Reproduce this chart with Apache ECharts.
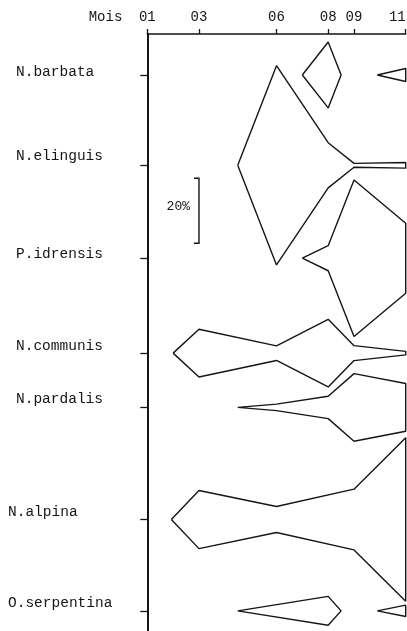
<!DOCTYPE html>
<html>
<head>
<meta charset="utf-8">
<script src="https://cdn.jsdelivr.net/npm/echarts@6/dist/echarts.min.js"></script>
<style>
html,body{margin:0;padding:0;background:#fff;}
#c{width:407px;height:631px;}
</style>
</head>
<body>
<div id="c"></div>
<script>
// ---- data ----
const species = ['N.barbata','N.elinguis','P.idrensis','N.communis','N.pardalis','N.alpina','O.serpentina'];
// row position of each species on the (percent-scaled) vertical axis
const speciesRow = [12.6, 40.4, 69.0, 98.2, 114.9, 149.4, 177.5];
const monthTicks = [1, 3, 6, 8, 9, 11];
// kites: segments of [month, width in %]
const barbata    = [[[7,0],[8,20.3],[8.5,0]], [[9.9,0],[11,4.0]]];
const elinguis   = [[[4.5,0],[6,61.3],[8,13.9],[9,1.2],[11,1.75]]];
const idrensis   = [[[7,0],[8,7.7],[9,48.2],[11,21.5]]];
const communis   = [[[2,0],[3,14.7],[6,4.5],[8,20.8],[9,4.6],[11,1.1]]];
const pardalis   = [[[4.5,0],[6,2.0],[8,6.9],[9,20.8],[11,14.7]]];
const alpina     = [[[1.93,0],[3,17.9],[6,8.0],[9,18.7],[11,50.3]]];
const serpentina = [[[4.5,0],[8,8.9],[8.5,0]], [[9.9,0],[11,3.5]]];
const kites = [barbata, elinguis, idrensis, communis, pardalis, alpina, serpentina];
const scaleBarPct = 20;

// ---- styling ----
const FONT = '"Liberation Mono", "DejaVu Sans Mono", monospace';
const INK = '#151515';
const labelLift = [3, 9, 4, 7, 8.5, 7.5, 8];
const labelIndent = [8, 8, 8, 8, 8, 0, 0];

const series = [];
kites.forEach((segs, i) => {
  const base = speciesRow[i];
  segs.forEach(seg => {
    const upper = seg.map(([m, w]) => [m, base - w / 2]);
    const lower = seg.slice().reverse().map(([m, w]) => [m, base + w / 2]);
    const pts = upper.concat(lower);
    const f = pts[0], l = pts[pts.length - 1];
    if (f[0] !== l[0] || f[1] !== l[1]) pts.push(f);
    series.push({
      type: 'line', data: pts, symbol: 'none', silent: true,
      lineStyle: { color: INK, width: 1.4 }, animation: false
    });
  });
});

series.push({
  type: 'custom', silent: true, animation: false,
  data: [[3, 44.4, scaleBarPct]],
  encode: { x: 0, y: 1 },
  renderItem: (params, api) => {
    const t = api.coord([api.value(0), api.value(1)]);
    const b = api.coord([api.value(0), api.value(1) + api.value(2)]);
    return {
      type: 'group',
      children: [
        { type: 'polyline',
          shape: { points: [[t[0] - 5, t[1]], [t[0], t[1]], [b[0], b[1]], [b[0] - 5, b[1]]] },
          style: { stroke: INK, lineWidth: 1.4, fill: null } },
        { type: 'text',
          style: { text: api.value(2) + '%', x: t[0] - 9, y: (t[1] + b[1]) / 2 - 4,
                   align: 'right', verticalAlign: 'middle', font: '13px ' + FONT, fill: INK } }
      ]
    };
  }
});

const rich = {};
species.forEach((s, i) => {
  rich['r' + i] = { fontFamily: FONT, fontSize: 14.5, color: INK,
    padding: [0, 0, 2 * labelLift[i], labelIndent[i]] };
});

const chart = echarts.init(document.getElementById('c'), null, { renderer: 'canvas' });
chart.setOption({
  backgroundColor: '#fff',
  animation: false,
  grid: { left: 147.3, right: 1.3, top: 34, bottom: 0, containLabel: false, outerBoundsMode: 'none' },
  xAxis: {
    type: 'value', position: 'top', min: 1, max: 11,
    name: 'Mois', nameLocation: 'start', nameGap: 25,
    nameTextStyle: { fontFamily: FONT, fontSize: 14, color: INK, align: 'right',
      verticalAlign: 'bottom', padding: [0, 0, 10, 0] },
    axisLine: { onZero: false, lineStyle: { color: INK, width: 1.5 } },
    axisTick: { show: true, inside: false, length: 5, customValues: monthTicks,
      lineStyle: { color: INK, width: 1.3 } },
    axisLabel: { customValues: monthTicks, margin: 10, fontFamily: FONT, fontSize: 14, color: INK,
      alignMaxLabel: 'right', hideOverlap: false,
      formatter: v => (v < 10 ? '0' : '') + v },
    splitLine: { show: false }
  },
  yAxis: {
    type: 'value', inverse: true, min: 0, max: 183.7,
    axisLine: { onZero: false, lineStyle: { color: INK, width: 2 } },
    axisTick: { show: true, length: 7, customValues: speciesRow,
      lineStyle: { color: INK, width: 1.3 } },
    axisLabel: {
      customValues: speciesRow, align: 'left', margin: 139.3,
      formatter: v => {
        const i = speciesRow.findIndex(r => Math.abs(r - v) < 1e-6);
        return i < 0 ? '' : '{r' + i + '|' + species[i] + '}';
      },
      rich: rich
    },
    splitLine: { show: false }
  },
  series: series
});
</script>
</body>
</html>
